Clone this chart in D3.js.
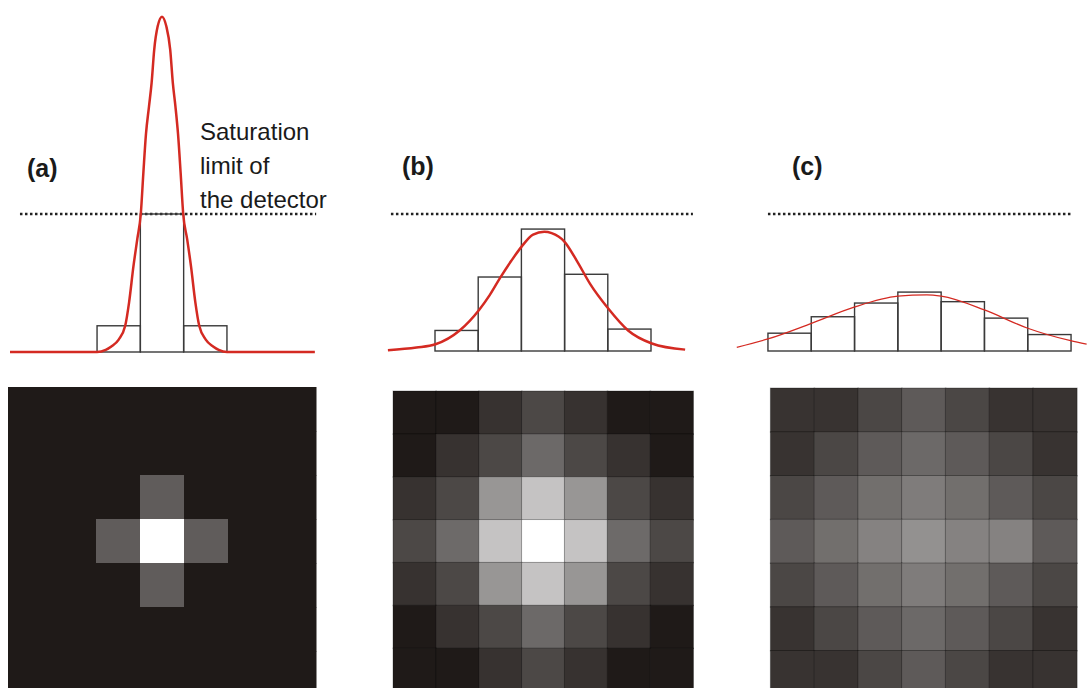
<!DOCTYPE html>
<html>
<head>
<meta charset="utf-8">
<script src="https://cdn.jsdelivr.net/npm/d3@7"></script>
<style>
  html, body { margin: 0; padding: 0; background: #fff; }
  svg { display: block; }
  .label { font-family: "Liberation Sans", Arial, sans-serif; font-weight: bold; font-size: 25px; fill: #1a1a1a; }
  .note { font-family: "Liberation Sans", Arial, sans-serif; font-size: 24px; fill: #1a1a1a; }
</style>
</head>
<body>
<div id="chart"></div>
<script>
// panel titles and the note next to panel (a)
const panelLabels = ["(a)", "(b)", "(c)"];
const noteLines = ["Saturation", "limit of", "the detector"];

// detector bin heights, in units of the saturation limit
const barsA = [0.19, 1.0, 0.19];
const barsB = [0.15, 0.54, 0.89, 0.56, 0.16];
const barsC = [0.13, 0.25, 0.35, 0.43, 0.36, 0.24, 0.12];

// red intensity profile, [position in pixels from centre, height]
const curveA = [[-3.51, 0], [-1.5, 0], [-1.3, 0.015], [-1.17, 0.04], [-1.0, 0.09], [-0.85, 0.19],
  [-0.76, 0.36], [-0.66, 0.62], [-0.57, 0.82], [-0.49, 1.0], [-0.43, 1.3], [-0.37, 1.58], [-0.3, 1.78],
  [-0.24, 1.95], [-0.18, 2.19], [-0.1, 2.36], [0, 2.43], [0.1, 2.36], [0.19, 2.19], [0.25, 1.95],
  [0.31, 1.78], [0.37, 1.58], [0.43, 1.3], [0.49, 1.0], [0.58, 0.82], [0.67, 0.62], [0.77, 0.36],
  [0.86, 0.19], [1.01, 0.09], [1.18, 0.04], [1.31, 0.015], [1.5, 0], [3.53, 0]];
const curveB = [[-3.59, 0.005], [-2.93, 0.025], [-2.49, 0.049], [-1.93, 0.15], [-1.48, 0.3],
  [-1.23, 0.41], [-1.0, 0.53], [-0.73, 0.66], [-0.5, 0.76], [-0.23, 0.85], [0.03, 0.87], [0.2, 0.86],
  [0.49, 0.8], [0.78, 0.66], [1.09, 0.49], [1.51, 0.31], [1.97, 0.15], [2.52, 0.055], [3.29, 0.01]];
const curveC = [[-4.22, 0.027], [-3.5, 0.088], [-2.51, 0.2], [-1.51, 0.32], [-0.5, 0.4], [0.17, 0.41],
  [0.5, 0.4], [1.5, 0.3], [2.5, 0.166], [3.49, 0.075], [3.86, 0.05]];

// image intensities (0 = dark, 1 = white), 7 x 7 pixels
const gridA = [
  [0, 0, 0, 0, 0, 0, 0],
  [0, 0, 0, 0, 0, 0, 0],
  [0, 0, 0, 0.29, 0, 0, 0],
  [0, 0, 0.29, 1.0, 0.29, 0, 0],
  [0, 0, 0, 0.29, 0, 0, 0],
  [0, 0, 0, 0, 0, 0, 0],
  [0, 0, 0, 0, 0, 0, 0]
];
const gridB = [
  [0, 0, 0.105, 0.2, 0.105, 0, 0],
  [0, 0.105, 0.2, 0.345, 0.2, 0.105, 0],
  [0.105, 0.2, 0.54, 0.74, 0.54, 0.2, 0.105],
  [0.2, 0.35, 0.74, 1.0, 0.74, 0.35, 0.2],
  [0.105, 0.2, 0.54, 0.74, 0.54, 0.2, 0.105],
  [0, 0.105, 0.2, 0.345, 0.2, 0.105, 0],
  [0, 0, 0.105, 0.2, 0.105, 0, 0]
];
const gridC = [
  [0.11, 0.11, 0.195, 0.28, 0.195, 0.11, 0.11],
  [0.11, 0.195, 0.28, 0.345, 0.28, 0.195, 0.11],
  [0.195, 0.28, 0.37, 0.43, 0.37, 0.28, 0.195],
  [0.28, 0.37, 0.455, 0.52, 0.455, 0.455, 0.28],
  [0.195, 0.28, 0.37, 0.43, 0.37, 0.28, 0.195],
  [0.11, 0.195, 0.28, 0.345, 0.28, 0.195, 0.11],
  [0.11, 0.11, 0.195, 0.28, 0.195, 0.11, 0.11]
];

const W = 1087, H = 688;
const satY = 214;
const red = "#d42a22";

const panels = [
  { label: panelLabels[0], bars: barsA, curve: curveA, grid: gridA,
    cx: 162, unit: 43.3, base: 352, dots: [-3.28, 3.56], lw: 2.5,
    gcx: 162, gtop: 387, cell: 44, cellStroke: "none", lx: 27, ly: 177 },
  { label: panelLabels[1], bars: barsB, curve: curveB, grid: gridB,
    cx: 543, unit: 43.2, base: 351, dots: [-3.52, 3.47], lw: 2.5,
    gcx: 543, gtop: 391, cell: 42.85, cellStroke: "rgba(0,0,0,0.3)", lx: 402, ly: 175 },
  { label: panelLabels[2], bars: barsC, curve: curveC, grid: gridC,
    cx: 919.5, unit: 43.3, base: 351, dots: [-3.5, 3.5], lw: 1.3,
    gcx: 923.5, gtop: 388, cell: 43.75, cellStroke: "rgba(0,0,0,0.3)", lx: 792, ly: 175 }
];

const svg = d3.select("#chart").append("svg")
  .attr("width", W)
  .attr("height", H);

const shade = d3.scaleLinear()
  .domain([0, 1])
  .range(["#1f1a18", "#ffffff"])
  .clamp(true);

panels.forEach(function(p, pi) {
  const g = svg.append("g").attr("class", "panel-" + pi);

  const x = d3.scaleLinear()
    .domain([-1, 1])
    .range([p.cx - p.unit, p.cx + p.unit]);
  const y = d3.scaleLinear()
    .domain([0, 1])
    .range([p.base, satY]);

  const n = p.bars.length;
  const xb = d3.scaleBand()
    .domain(d3.range(n))
    .range([x(-n / 2), x(n / 2)])
    .padding(0);

  // image grid first
  const gc = d3.scaleBand().domain(d3.range(7))
    .range([p.gcx - 3.5 * p.cell, p.gcx + 3.5 * p.cell]);
  const gr = d3.scaleBand().domain(d3.range(7))
    .range([p.gtop, p.gtop + 7 * p.cell]);

  const cells = [];
  p.grid.forEach(function(row, r) {
    row.forEach(function(v, c) { cells.push({ r: r, c: c, v: v }); });
  });

  g.append("g").selectAll("rect")
    .data(cells)
    .enter().append("rect")
      .attr("x", function(d) { return gc(d.c) })
      .attr("y", function(d) { return gr(d.r) })
      .attr("width", gc.bandwidth() + 0.5)
      .attr("height", gr.bandwidth() + 0.5)
      .attr("fill", function(d) { return shade(d.v) })
      .attr("stroke", p.cellStroke)
      .attr("stroke-width", 1);

  // saturation limit
  g.append("line")
    .attr("x1", x(p.dots[0]))
    .attr("x2", x(p.dots[1]))
    .attr("y1", y(1))
    .attr("y2", y(1))
    .attr("stroke", "#222")
    .attr("stroke-width", 2.5)
    .attr("stroke-dasharray", "2.5,2.5");

  // detector bins
  g.append("g").selectAll("rect")
    .data(p.bars)
    .enter().append("rect")
      .attr("x", function(d, i) { return xb(i) })
      .attr("y", function(d) { return y(d) })
      .attr("width", xb.bandwidth())
      .attr("height", function(d) { return y(0) - y(d) })
      .attr("fill", "none")
      .attr("stroke", "#3a3a3a")
      .attr("stroke-width", 1.4);

  const line = d3.line()
    .x(function(d) { return x(d[0]) })
    .y(function(d) { return y(d[1]) })
    .curve(d3.curveMonotoneX);

  g.append("path")
    .attr("d", line(p.curve))
    .attr("fill", "none")
    .attr("stroke", red)
    .attr("stroke-width", p.lw)
    .attr("stroke-linejoin", "round");

  g.append("text")
    .attr("class", "label")
    .attr("x", p.lx)
    .attr("y", p.ly)
    .text(p.label);
});

const note = svg.append("text")
  .attr("class", "note")
  .attr("x", 200)
  .attr("y", 140);
note.selectAll("tspan")
  .data(noteLines)
  .enter().append("tspan")
    .attr("x", 200)
    .attr("dy", function(d, i) { return i === 0 ? 0 : 34 })
    .text(function(d) { return d });
</script>
</body>
</html>
